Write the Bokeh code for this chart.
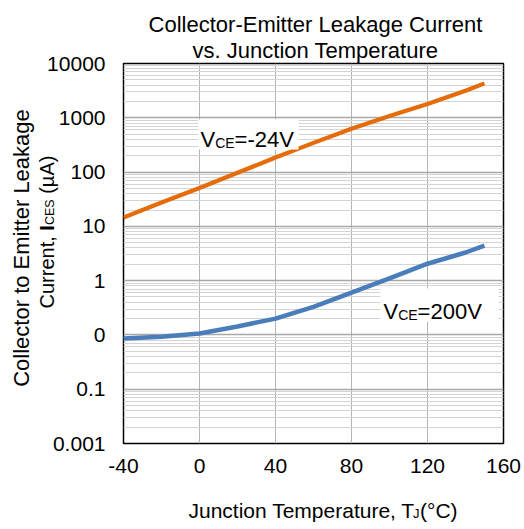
import math
from bokeh.plotting import figure
from bokeh.models import (FixedTicker, CustomJSTickFormatter, Label, BoxAnnotation, GridBox)
from bokeh.embed import file_html
from bokeh.resources import INLINE

# ---- data ----
temp = [-40, -20, 0, 20, 40, 60, 80, 100, 120, 140, 150]
ices_m24v = [14.5, 27.5, 51, 97, 185, 345, 630, 1080, 1800, 3150, 4300]
ices_200v = [0.086, 0.093, 0.106, 0.143, 0.2, 0.33, 0.6, 1.1, 2.05, 3.3, 4.4]

x_ticks = [-40, 0, 40, 80, 120, 160]
y_tick_vals = [0.001, 0.01, 0.1, 1, 10, 100, 1000, 10000]
y_tick_labels = ["0.001", "0.1", "0", "1", "10", "100", "1000", "10000"]

title_lines = ["Collector-Emitter Leakage Current", "vs. Junction Temperature"]

FONT = "Liberation Sans"
ORANGE = "#E46C0A"
BLUE = "#4A7EBB"
W, H = 524, 529

# ---------------- main chart ----------------
p = figure(width=W, height=H, output_backend="svg", toolbar_location=None,
           x_range=(-40, 160), y_range=(0.001, 10000), y_axis_type="log",
           min_border_left=123, min_border_right=21, min_border_top=63,
           min_border_bottom=86)
p.background_fill_color = "white"
p.border_fill_color = "white"
p.outline_line_color = "black"
p.outline_line_width = 1.5

minor = [k * 10.0 ** d for d in range(-3, 4) for k in range(2, 10)]
p.yaxis.ticker = FixedTicker(ticks=y_tick_vals, minor_ticks=minor)
p.xaxis.ticker = FixedTicker(ticks=x_ticks)
p.yaxis.formatter = CustomJSTickFormatter(args=dict(vals=y_tick_vals, labs=y_tick_labels), code="""
let best = 0, bd = Infinity;
for (let i = 0; i < vals.length; i++) {
  const d = Math.abs(Math.log10(tick) - Math.log10(vals[i]));
  if (d < bd) { bd = d; best = i; }
}
return labs[best];
""")
p.xaxis.formatter = CustomJSTickFormatter(code="return tick.toFixed(0);")

for ax in (p.xaxis, p.yaxis):
    ax.axis_line_color = None
    ax.major_tick_line_color = None
    ax.minor_tick_line_color = None
    ax.major_label_text_font = FONT
    ax.major_label_text_font_size = "21px"
    ax.major_label_text_color = "black"
p.xaxis.major_label_standoff = 9
p.yaxis.major_label_standoff = 12

p.xgrid.grid_line_color = "#b4b4b4"
p.xgrid.grid_line_width = 1
p.ygrid.grid_line_color = "#a8a8a8"
p.ygrid.grid_line_width = 1.6
p.ygrid.minor_grid_line_color = "#d4d4d4"
p.ygrid.minor_grid_line_width = 1.2

p.line(temp, ices_m24v, line_color=ORANGE, line_width=4.2)
p.line(temp, ices_200v, line_color=BLUE, line_width=4.5)


def lab(fig, text, cx, cy, size, place="center", **kw):
    """Label positioned in canvas pixels (origin top-left)."""
    fig.add_layout(Label(x=cx, y=cy, x_units="canvas", y_units="canvas", text=text,
                         text_font=FONT, text_font_size=size, text_color="black",
                         text_baseline=kw.pop("baseline", "alphabetic"),
                         text_align=kw.pop("align", "left"), **kw), place)


# curve labels with white boxes (inside the frame)
p.add_layout(BoxAnnotation(left=75, right=175, bottom=294, top=324,
                           left_units="screen", right_units="screen",
                           bottom_units="screen", top_units="screen",
                           fill_color="white", fill_alpha=1, line_color=None))
p.add_layout(BoxAnnotation(left=257, right=375, bottom=122, top=155,
                           left_units="screen", right_units="screen",
                           bottom_units="screen", top_units="screen",
                           fill_color="white", fill_alpha=1, line_color=None))
lab(p, "V", 200, 139, "22px")
lab(p, "CE", 214.7, 142, "14px")
lab(p, "=-24V", 234.1, 139, "22px")
lab(p, "V", 383, 311, "22px")
lab(p, "CE", 397.7, 314, "14px")
lab(p, "=200V", 417.1, 311, "22px")

# ------------- transparent text layer: labels live in its side panels -------------
t = figure(width=W, height=H, output_backend="svg", toolbar_location=None,
           title=None, x_range=(0, W), y_range=(H, 0),
           x_axis_location=None, y_axis_location=None, min_border=0)
t.background_fill_alpha = 0
t.border_fill_alpha = 0
t.outline_line_color = None
t.grid.visible = False

D = 7  # side-panel labels render about this much further along their baseline direction

# title
lab(t, title_lines[0], 315, 31 - D, "22px", "above", align="center")
lab(t, title_lines[1], 315, 57 - D, "22px", "above", align="center")

# x axis label
lab(t, "Junction Temperature, T", 188, 517 - D, "21px", "below")
lab(t, "J", 412.5, 520 - D, "13px", "below")
lab(t, "(°C)", 419.5, 517 - D, "21px", "below")

# y axis label (rotated)
rot = math.pi / 2
lab(t, "Collector to Emitter Leakage", 28 - D, 247.5, "22px", "left", align="center", angle=rot)
lab(t, "Current,", 53 - D, 308, "20px", "left", angle=rot)
lab(t, "I", 53 - D, 230.2, "20px", "left", angle=rot, text_font_style="bold")
lab(t, "CES", 56 - D, 224.6, "12.5px", "left", angle=rot)
lab(t, "(µA)", 53 - D, 193.3, "20px", "left", angle=rot)

layout = GridBox(children=[(p, 0, 0), (t, 0, 0)])

open("out.html", "w").write(file_html(layout, INLINE))
